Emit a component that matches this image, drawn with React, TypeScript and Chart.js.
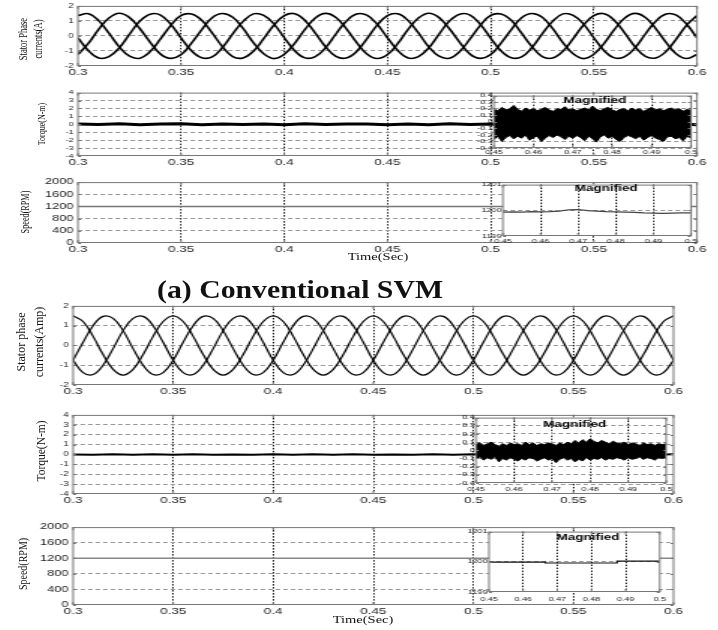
import React, { useEffect, useRef } from 'react';
import { Chart, registerables } from 'chart.js';

Chart.register(...registerables);

// ---------------- data ----------------
const X_TICKS = [0.3, 0.35, 0.4, 0.45, 0.5, 0.55, 0.6];
const X_TICK_LABELS = ['0.3', '0.35', '0.4', '0.45', '0.5', '0.55', '0.6'];
const ZOOM_X_TICKS = [0.45, 0.46, 0.47, 0.48, 0.49, 0.5];
const ZOOM_X_TICK_LABELS = ['0.45', '0.46', '0.47', '0.48', '0.49', '0.5'];
const CURRENT_Y_TICKS = [-2, -1, 0, 1, 2];
const CURRENT_Y_TICK_LABELS = ['-2', '-1', '0', '1', '2'];
const TORQUE_Y_TICKS = [-4, -3, -2, -1, 0, 1, 2, 3, 4];
const TORQUE_Y_TICK_LABELS = ['-4', '-3', '-2', '-1', '0', '1', '2', '3', '4'];
const SPEED_Y_TICKS = [0, 400, 800, 1200, 1600, 2000];
const SPEED_Y_TICK_LABELS = ['0', '400', '800', '1200', '1600', '2000'];
const TORQUE_ZOOM_Y_TICKS = [-0.4, -0.3, -0.2, -0.1, 0, 0.1, 0.2, 0.3, 0.4];
const TORQUE_ZOOM_Y_TICK_LABELS = ['-0.4', '-0.3', '-0.2', '-0.1', '0', '0.1', '0.2', '0.3', '0.4'];
const SPEED_ZOOM_Y_TICKS = [1199, 1200, 1201];
const SPEED_ZOOM_Y_TICK_LABELS = ['1199', '1200', '1201'];

const TITLE = '(a) Conventional SVM';
const X_TITLE = 'Time(Sec)';
const NOTE = 'Magnified';

// stator currents sampled every 5 ms from 0.3 s
const CURRENT_T0 = 0.3;
const CURRENT_DT = 0.005;
const currentA_conv = [
  1.36, 1.48, 1.02, 0.18, -0.73, -1.35, -1.48, -1.04, -0.2, 0.71,
  1.37, 1.46, 1.04, 0.2, -0.71, -1.37, -1.46, -1.02, -0.18, 0.73,
  1.35, 1.48, 1.03, 0.19, -0.72, -1.36, -1.47, -1.04, -0.19, 0.72,
  1.36, 1.47, 1.02, 0.2, -0.73, -1.35, -1.48, -1.03, -0.2, 0.71,
  1.37, 1.46, 1.04, 0.18, -0.71, -1.37, -1.47, -1.02, -0.18, 0.73,
  1.35, 1.48, 1.03, 0.19, -0.72, -1.36, -1.46, -1.04, -0.19, 0.72,
  1.36,
];
const currentB_conv = [
  -0.13, -0.97, -1.47, -1.37, -0.79, 0.12, 0.99, 1.45, 1.39, 0.77,
  -0.14, -0.99, -1.45, -1.39, -0.77, 0.14, 0.97, 1.47, 1.37, 0.79,
  -0.12, -0.98, -1.46, -1.38, -0.78, 0.13, 0.98, 1.46, 1.38, 0.78,
  -0.13, -0.97, -1.47, -1.37, -0.79, 0.12, 0.99, 1.45, 1.39, 0.77,
  -0.14, -0.99, -1.45, -1.39, -0.77, 0.14, 0.97, 1.47, 1.37, 0.79,
  -0.12, -0.98, -1.46, -1.38, -0.78, 0.13, 0.98, 1.46, 1.38, 0.78,
  -0.13,
];
const currentC_conv = [
  -1.23, -0.5, 0.44, 1.19, 1.51, 1.22, 0.48, -0.42, -1.21, -1.49,
  -1.24, -0.48, 0.42, 1.21, 1.49, 1.24, 0.5, -0.44, -1.19, -1.51,
  -1.22, -0.49, 0.43, 1.2, 1.5, 1.23, 0.49, -0.43, -1.2, -1.5,
  -1.23, -0.5, 0.44, 1.19, 1.51, 1.22, 0.48, -0.42, -1.21, -1.49,
  -1.24, -0.48, 0.42, 1.21, 1.49, 1.24, 0.5, -0.44, -1.19, -1.51,
  -1.22, -0.49, 0.43, 1.2, 1.5, 1.23, 0.49, -0.43, -1.2, -1.5,
  -1.23,
];
const currentA_prop = [
  1.5, 1.21, 0.46, -0.46, -1.21, -1.5, -1.21, -0.46, 0.46, 1.21,
  1.5, 1.21, 0.46, -0.46, -1.21, -1.5, -1.21, -0.46, 0.46, 1.21,
  1.5, 1.21, 0.46, -0.46, -1.21, -1.5, -1.21, -0.46, 0.46, 1.21,
  1.5, 1.21, 0.46, -0.46, -1.21, -1.5, -1.21, -0.46, 0.46, 1.21,
  1.5, 1.21, 0.46, -0.46, -1.21, -1.5, -1.21, -0.46, 0.46, 1.21,
  1.5, 1.21, 0.46, -0.46, -1.21, -1.5, -1.21, -0.46, 0.46, 1.21,
  1.5,
];
const currentB_prop = [
  -0.75, -1.37, -1.47, -1.0, -0.16, 0.75, 1.37, 1.47, 1.0, 0.16,
  -0.75, -1.37, -1.47, -1.0, -0.16, 0.75, 1.37, 1.47, 1.0, 0.16,
  -0.75, -1.37, -1.47, -1.0, -0.16, 0.75, 1.37, 1.47, 1.0, 0.16,
  -0.75, -1.37, -1.47, -1.0, -0.16, 0.75, 1.37, 1.47, 1.0, 0.16,
  -0.75, -1.37, -1.47, -1.0, -0.16, 0.75, 1.37, 1.47, 1.0, 0.16,
  -0.75, -1.37, -1.47, -1.0, -0.16, 0.75, 1.37, 1.47, 1.0, 0.16,
  -0.75,
];
const currentC_prop = [
  -0.75, 0.16, 1.0, 1.47, 1.37, 0.75, -0.16, -1.0, -1.47, -1.37,
  -0.75, 0.16, 1.0, 1.47, 1.37, 0.75, -0.16, -1.0, -1.47, -1.37,
  -0.75, 0.16, 1.0, 1.47, 1.37, 0.75, -0.16, -1.0, -1.47, -1.37,
  -0.75, 0.16, 1.0, 1.47, 1.37, 0.75, -0.16, -1.0, -1.47, -1.37,
  -0.75, 0.16, 1.0, 1.47, 1.37, 0.75, -0.16, -1.0, -1.47, -1.37,
  -0.75, 0.16, 1.0, 1.47, 1.37, 0.75, -0.16, -1.0, -1.47, -1.37,
  -0.75,
];

// torque, main view, sampled every 10 ms
const TORQUE_T0 = 0.3;
const TORQUE_DT = 0.01;
const torque_conv = [
  0.05, -0.04, 0.06, -0.05, 0.03, 0.07, -0.06, 0.04, -0.03, 0.05, -0.05,
  0.06, -0.04, 0.03, 0.05, -0.06, 0.04, -0.05, 0.06, -0.03, 0.05,
  -0.04, 0.06, -0.05, 0.04, -0.06, 0.05, -0.04, 0.03, 0.06, -0.05,
];
const torque_prop = [
  0.0, -0.03, 0.02, -0.04, 0.01, -0.02, 0.03, -0.03, 0.0, -0.04, 0.02,
  -0.02, 0.01, -0.03, 0.02, -0.04, 0.0, -0.02, 0.03, -0.03, 0.01,
  -0.02, 0.02, -0.04, 0.01, -0.03, 0.02, -0.02, 0.0, -0.03, 0.01,
];

// torque ripple envelope in the magnified window, every 1 ms from 0.45 s
const ZOOM_T0 = 0.45;
const ZOOM_DT = 0.001;
const torqueZoomHigh_conv = [
  0.2, 0.17, 0.22, 0.18, 0.2, 0.25, 0.19, 0.16, 0.21, 0.18, 0.2, 0.17, 0.19,
  0.22, 0.18, 0.16, 0.2, 0.19, 0.23, 0.18, 0.2, 0.17, 0.19, 0.21, 0.18, 0.24,
  0.19, 0.17, 0.2, 0.22, 0.18, 0.16, 0.19, 0.2, 0.17, 0.21, 0.18, 0.2, 0.16,
  0.19, 0.22, 0.18, 0.2, 0.17, 0.19, 0.21, 0.18, 0.2, 0.16, 0.19, 0.2,
];
const torqueZoomLow_conv = [
  -0.27, -0.22, -0.3, -0.24, -0.21, -0.26, -0.22, -0.25, -0.2, -0.28, -0.24,
  -0.22, -0.3, -0.25, -0.21, -0.24, -0.2, -0.23, -0.27, -0.22, -0.25, -0.21,
  -0.24, -0.29, -0.22, -0.26, -0.31, -0.23, -0.2, -0.25, -0.22, -0.27, -0.3,
  -0.24, -0.21, -0.23, -0.26, -0.22, -0.28, -0.24, -0.21, -0.25, -0.27, -0.3,
  -0.23, -0.22, -0.26, -0.24, -0.29, -0.22, -0.25,
];
const torqueZoomHigh_prop = [
  0.07, 0.09, 0.06, 0.08, 0.1, 0.07, 0.05, 0.08, 0.06, 0.09, 0.07, 0.08,
  0.06, 0.1, 0.07, 0.09, 0.06, 0.08, 0.07, 0.09, 0.08, 0.06, 0.09, 0.07,
  0.1, 0.08, 0.12, 0.09, 0.13, 0.1, 0.14, 0.11, 0.09, 0.12, 0.1, 0.08, 0.11,
  0.09, 0.08, 0.1, 0.07, 0.09, 0.08, 0.06, 0.09, 0.07, 0.08, 0.06, 0.08,
  0.07, 0.08,
];
const torqueZoomLow_prop = [
  -0.1, -0.08, -0.12, -0.09, -0.11, -0.08, -0.14, -0.1, -0.12, -0.09, -0.11,
  -0.13, -0.1, -0.12, -0.09, -0.1, -0.13, -0.11, -0.09, -0.12, -0.1, -0.15,
  -0.11, -0.09, -0.12, -0.1, -0.14, -0.11, -0.13, -0.09, -0.12, -0.1, -0.11,
  -0.09, -0.12, -0.1, -0.11, -0.09, -0.1, -0.12, -0.09, -0.11, -0.1, -0.08,
  -0.11, -0.09, -0.1, -0.12, -0.09, -0.1, -0.1,
];

// speed
const SPEED_T = [0.3, 0.6];
const speed_conv = [1200, 1200];
const speed_prop = [1200, 1200];
const SPEED_ZOOM_T0 = 0.45;
const SPEED_ZOOM_DT = 0.0025;
const speedZoom_conv = [
  1199.93, 1199.94, 1199.93, 1199.95, 1199.94, 1199.95, 1199.97, 1200.02,
  1200.03, 1199.99, 1199.97, 1199.95, 1199.94, 1199.93, 1199.92, 1199.9,
  1199.89, 1199.88, 1199.89, 1199.9, 1199.9,
];
const SPEED_ZOOM_T_prop = [0.45, 0.4665, 0.4665, 0.4875, 0.4875, 0.5];
const speedZoom_prop = [1199.99, 1199.99, 1199.96, 1199.96, 1200.02, 1200.02];

// ---------------- helpers ----------------
const sampled = (t0: number, dt: number, vals: number[]) => vals.map((y, i) => ({ x: t0 + i * dt, y }));
const paired = (ts: number[], vals: number[]) => ts.map((x, i) => ({ x, y: vals[i] }));

const line = (data: any[], color: string, width: number, tension = 0) => ({
  data, borderColor: color, borderWidth: width, pointRadius: 0, tension, fill: false,
});
const band = (hi: any[], lo: any[]) => [
  { data: hi, borderColor: '#000', borderWidth: 1, backgroundColor: '#000', fill: '+1', pointRadius: 0, tension: 0 },
  { data: lo, borderColor: '#000', borderWidth: 1, pointRadius: 0, tension: 0, fill: false },
];

const STRETCH = 1.5; // the figure is horizontally stretched

const framePlugin = {
  id: 'frame',
  beforeDraw(chart: any, _a: any, o: any) {
    if (!o.fillWhite) return;
    const { ctx, chartArea: c } = chart;
    ctx.save();
    ctx.fillStyle = '#fff';
    ctx.fillRect(c.left, c.top, c.right - c.left, c.bottom - c.top);
    ctx.restore();
  },
  afterDraw(chart: any, _a: any, o: any) {
    const { ctx, chartArea: c, scales } = chart;
    ctx.save();
    ctx.setLineDash([]);
    ctx.strokeStyle = o.color;
    ctx.lineWidth = 1;
    ctx.strokeRect(c.left, c.top + 0.5, c.right - c.left, c.bottom - c.top - 1);
    ctx.beginPath();
    for (const t of scales.x.ticks) {
      const x = scales.x.getPixelForValue(t.value);
      ctx.moveTo(x, c.bottom); ctx.lineTo(x, c.bottom - 3);
      ctx.moveTo(x, c.top); ctx.lineTo(x, c.top + 3);
    }
    for (const t of scales.y.ticks) {
      const y = Math.round(scales.y.getPixelForValue(t.value)) + 0.5;
      ctx.moveTo(c.left, y); ctx.lineTo(c.left + 2, y);
      ctx.moveTo(c.right, y); ctx.lineTo(c.right - 2, y);
    }
    ctx.stroke();
    if (o.note) {
      ctx.fillStyle = '#000';
      ctx.font = `bold ${o.note.size}px "Liberation Sans", Arial, sans-serif`;
      ctx.textAlign = 'center';
      ctx.textBaseline = 'middle';
      ctx.fillText(o.note.text, scales.x.getPixelForValue(o.note.x), scales.y.getPixelForValue(o.note.y));
    }
    ctx.restore();
  },
};

type Rect = { l: number; t: number; r: number; b: number };
type Axis = { min: number; max: number; ticks: number[]; labels: string[]; font: number; pad: number };
type Spec = {
  rect: Rect; x: Axis; y: Axis; yAxisW: number; padTop: number; padRight: number; xAxisH: number;
  datasets: any[]; inset?: boolean; frameColor: string; note?: any;
};

function Panel({ spec }: { spec: Spec }) {
  const ref = useRef<HTMLCanvasElement>(null);
  const s = STRETCH;
  const plotW = (spec.rect.r - spec.rect.l) / s;
  const cw = Math.ceil(spec.yAxisW + plotW + spec.padRight);
  const padRight = cw - spec.yAxisW - plotW;
  const ch = spec.rect.b - spec.rect.t + spec.padTop + spec.xAxisH;
  const left = spec.rect.l - spec.yAxisW * s;
  const top = spec.rect.t - spec.padTop;

  useEffect(() => {
    const hideEdges = (color: string, n: number) => (c: any) =>
      c.index === 0 || c.index === n - 1 ? 'rgba(0,0,0,0)' : color;
    const font = (size: number) => ({ family: '"Liberation Sans", Arial, sans-serif', size });
    const chart = new Chart(ref.current as HTMLCanvasElement, {
      type: 'line',
      data: { datasets: spec.datasets },
      options: {
        animation: false,
        responsive: false,
        devicePixelRatio: 1,
        events: [],
        layout: { padding: { top: spec.padTop, right: padRight, left: 0, bottom: 0 } },
        plugins: {
          legend: { display: false },
          tooltip: { enabled: false },
          frame: { color: spec.frameColor, fillWhite: !!spec.inset, note: spec.note },
        } as any,
        scales: {
          x: {
            type: 'linear',
            bounds: 'data',
            min: spec.x.min,
            max: spec.x.max,
            afterBuildTicks: (sc: any) => { sc.ticks = spec.x.ticks.map((v) => ({ value: v })); },
            afterFit: (sc: any) => { sc.height = spec.xAxisH; },
            ticks: {
              autoSkip: false, maxRotation: 0, minRotation: 0, padding: spec.x.pad,
              font: font(spec.x.font), color: '#222',
              callback: (_v: any, i: number) => spec.x.labels[i],
            },
            grid: { color: hideEdges('#000', spec.x.ticks.length), lineWidth: 0.9, drawTicks: false },
            border: { display: false, dash: [1.5, 1.5] },
          },
          y: {
            type: 'linear',
            bounds: 'data',
            min: spec.y.min,
            max: spec.y.max,
            afterBuildTicks: (sc: any) => { sc.ticks = spec.y.ticks.map((v) => ({ value: v })); },
            afterFit: (sc: any) => { sc.width = spec.yAxisW; },
            ticks: {
              autoSkip: false, padding: spec.y.pad,
              font: font(spec.y.font), color: '#222',
              callback: (_v: any, i: number) => spec.y.labels[i],
            },
            grid: { color: hideEdges('#9a9a9a', spec.y.ticks.length), lineWidth: 1, drawTicks: false },
            border: { display: false, dash: [3, 2] },
          },
        },
      } as any,
      plugins: [framePlugin],
    });
    return () => chart.destroy();
  }, []);

  return (
    <canvas
      ref={ref}
      width={cw}
      height={ch}
      style={{ position: 'absolute', left, top, width: cw * s, height: ch }}
    />
  );
}

const mainX: Axis = { min: 0.3, max: 0.6, ticks: X_TICKS, labels: X_TICK_LABELS, font: 9, pad: 1 };
const zoomX = (pad: number): Axis => ({ min: 0.45, max: 0.5, ticks: ZOOM_X_TICKS, labels: ZOOM_X_TICK_LABELS, font: 6, pad });

const mainSpec = (rect: Rect, y: Axis, datasets: any[]): Spec => ({
  rect, x: mainX, y, yAxisW: 28, padTop: 6, padRight: 9, xAxisH: 14, datasets, frameColor: '#777',
});
const insetSpec = (rect: Rect, y: Axis, datasets: any[], note: any, xPad: number): Spec => ({
  rect, x: zoomX(xPad), y, yAxisW: 16, padTop: 4, padRight: 6, xAxisH: 11, datasets, frameColor: '#777', inset: true, note,
});

const currentY = (font: number): Axis => ({ min: -2, max: 2, ticks: CURRENT_Y_TICKS, labels: CURRENT_Y_TICK_LABELS, font, pad: 3 });
const torqueY = (font: number): Axis => ({ min: -4, max: 4, ticks: TORQUE_Y_TICKS, labels: TORQUE_Y_TICK_LABELS, font, pad: 3 });
const speedY: Axis = { min: 0, max: 2000, ticks: SPEED_Y_TICKS, labels: SPEED_Y_TICK_LABELS, font: 8.5, pad: 3 };
const torqueZoomY: Axis = { min: -0.4, max: 0.4, ticks: TORQUE_ZOOM_Y_TICKS, labels: TORQUE_ZOOM_Y_TICK_LABELS, font: 6, pad: 1 };
const speedZoomY: Axis = { min: 1199, max: 1201, ticks: SPEED_ZOOM_Y_TICKS, labels: SPEED_ZOOM_Y_TICK_LABELS, font: 6, pad: 1 };

const PANELS: Spec[] = [
  // (a) conventional SVM
  mainSpec({ l: 78, t: 5, r: 697, b: 66 }, currentY(6.5), [
    line(sampled(CURRENT_T0, CURRENT_DT, currentA_conv), '#000', 1.6, 0.4),
    line(sampled(CURRENT_T0, CURRENT_DT, currentB_conv), '#000', 1.6, 0.4),
    line(sampled(CURRENT_T0, CURRENT_DT, currentC_conv), '#000', 1.6, 0.4),
  ]),
  mainSpec({ l: 78, t: 92, r: 697, b: 156 }, torqueY(6), [
    line(sampled(TORQUE_T0, TORQUE_DT, torque_conv), '#000', 3),
  ]),
  insetSpec({ l: 494, t: 95, r: 691, b: 148 }, torqueZoomY,
    band(sampled(ZOOM_T0, ZOOM_DT, torqueZoomHigh_conv), sampled(ZOOM_T0, ZOOM_DT, torqueZoomLow_conv)),
    { text: NOTE, x: 0.4756, y: 0.325, size: 9 }, 1),
  mainSpec({ l: 78, t: 180, r: 697, b: 243 }, speedY, [
    line(paired(SPEED_T, speed_conv), '#777', 1.6),
  ]),
  insetSpec({ l: 503, t: 184, r: 691, b: 236 }, speedZoomY, [
    line(sampled(SPEED_ZOOM_T0, SPEED_ZOOM_DT, speedZoom_conv), '#444', 1.2),
  ], { text: NOTE, x: 0.4774, y: 1200.85, size: 9 }, 2),
  // (b) proposed
  mainSpec({ l: 73, t: 305, r: 673, b: 385 }, currentY(6.5), [
    line(sampled(CURRENT_T0, CURRENT_DT, currentA_prop), '#000', 1.2, 0.4),
    line(sampled(CURRENT_T0, CURRENT_DT, currentB_prop), '#000', 1.2, 0.4),
    line(sampled(CURRENT_T0, CURRENT_DT, currentC_prop), '#000', 1.2, 0.4),
  ]),
  mainSpec({ l: 73, t: 414, r: 673, b: 494 }, torqueY(6.5), [
    line(sampled(TORQUE_T0, TORQUE_DT, torque_prop), '#000', 2),
  ]),
  insetSpec({ l: 476, t: 417, r: 667, b: 483 }, torqueZoomY,
    band(sampled(ZOOM_T0, ZOOM_DT, torqueZoomHigh_prop), sampled(ZOOM_T0, ZOOM_DT, torqueZoomLow_prop)),
    { text: NOTE, x: 0.4759, y: 0.315, size: 9 }, 3),
  mainSpec({ l: 73, t: 525, r: 673, b: 605 }, speedY, [
    line(paired(SPEED_T, speed_prop), '#888', 1.6),
  ]),
  insetSpec({ l: 489, t: 531, r: 663, b: 592 }, speedZoomY, [
    line(paired(SPEED_ZOOM_T_prop, speedZoom_prop), '#111', 1.2),
  ], { text: NOTE, x: 0.479, y: 1200.8, size: 9 }, 4),
];

type TextSpec = {
  lines: string[]; cx: number; cy: number; size: number; sx: number; lh?: number;
  rotate?: boolean; bold?: boolean;
};

const TEXTS: TextSpec[] = [
  { lines: ['Stator Phase', 'currents(A)'], cx: 29.5, cy: 39, size: 8.5, sx: 1.5, lh: 10, rotate: true },
  { lines: ['Torque(N-m)'], cx: 41, cy: 123.5, size: 8, sx: 1.4, rotate: true },
  { lines: ['Speed(RPM)'], cx: 24.5, cy: 211.5, size: 8.2, sx: 1.5, rotate: true },
  { lines: [X_TITLE], cx: 378, cy: 257, size: 10, sx: 1.45 },
  { lines: [TITLE], cx: 300, cy: 289, size: 25, sx: 1.19, bold: true },
  { lines: ['Stator phase', 'currents(Amp)'], cx: 30, cy: 342, size: 12, sx: 1.1, lh: 17, rotate: true },
  { lines: ['Torque(N-m)'], cx: 41, cy: 451, size: 11.5, sx: 1.1, rotate: true },
  { lines: ['Speed(RPM)'], cx: 23, cy: 564, size: 10, sx: 1.3, rotate: true },
  { lines: [X_TITLE], cx: 363, cy: 620, size: 10, sx: 1.45 },
];

function Label({ t }: { t: TextSpec }) {
  return (
    <div
      style={{
        position: 'absolute',
        left: t.cx,
        top: t.cy,
        transform: `translate(-50%, -50%) scaleX(${t.sx})${t.rotate ? ' rotate(-90deg)' : ''}`,
        fontFamily: '"Liberation Serif", "Times New Roman", serif',
        fontSize: t.size,
        fontWeight: t.bold ? 'bold' : 'normal',
        lineHeight: `${t.lh ?? Math.round(t.size * 1.15)}px`,
        whiteSpace: 'nowrap',
        textAlign: 'center',
        color: '#111',
      }}
    >
      {t.lines.map((l, i) => (
        <div key={i}>{l}</div>
      ))}
    </div>
  );
}

export default function App() {
  return (
    <div
      style={{
        position: 'fixed', left: 0, top: 0, width: 718, height: 630,
        background: '#fff', overflow: 'hidden',
      }}
    >
      {PANELS.map((p, i) => (
        <Panel key={i} spec={p} />
      ))}
      {TEXTS.map((t, i) => (
        <Label key={i} t={t} />
      ))}
    </div>
  );
}
